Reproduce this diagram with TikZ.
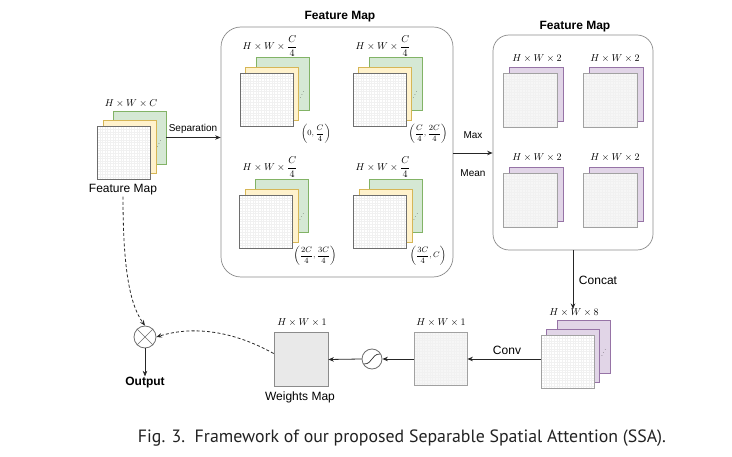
\documentclass[tikz,border=0pt]{standalone}
\usepackage{amsmath}
\usepackage{fontspec}
\usepackage{graphicx}
\setsansfont{Liberation Sans}
\newfontfamily\capfont{PT Sans}
\usetikzlibrary{arrows.meta}
\definecolor{gfill}{HTML}{D5E8D4}\definecolor{gdraw}{HTML}{82B366}
\definecolor{yfill}{HTML}{FFF2CC}\definecolor{ydraw}{HTML}{D6B656}
\definecolor{pfill}{HTML}{E1D5E7}\definecolor{pdraw}{HTML}{9673A6}
\definecolor{sqdraw}{HTML}{6E6E6E}
\definecolor{gridc}{HTML}{F1F1F1}
\definecolor{boxdraw}{HTML}{8A8A8A}
\definecolor{lightsq}{HTML}{F6F6F6}
\definecolor{wmfill}{HTML}{E9E9E9}
\definecolor{captext}{HTML}{222222}
\begin{document}
\begin{tikzpicture}[x=1pt,y=-1pt,
  sqbase/.style={rectangle, minimum width=53pt, minimum height=53pt, inner sep=0pt, line width=0.7pt},
  gridded/.style={path picture={\draw[gridc, line width=0.25pt, step=2.65pt] (path picture bounding box.south west) grid (path picture bounding box.north east);}},
  frontsq/.style={sqbase, draw=sqdraw, line width=0.9pt, fill=white, gridded},
  greysq/.style={sqbase, draw=sqdraw!65, line width=0.8pt, fill=lightsq, gridded},
  gsq/.style={sqbase, draw=gdraw, fill=gfill},
  ysq/.style={sqbase, draw=ydraw, fill=yfill},
  psq/.style={sqbase, draw=pdraw, fill=pfill},
  bigbox/.style={rectangle, draw=boxdraw, line width=0.7pt, rounded corners=20pt, inner sep=0pt},
  sflab/.style={font=\sffamily\fontsize{12}{14}\selectfont, inner sep=1pt},
  smlab/.style={font=\sffamily\fontsize{10}{12}\selectfont, inner sep=1pt},
  title/.style={font=\sffamily\bfseries\fontsize{12}{14}\selectfont, inner sep=1pt},
  mlab/.style={font=\fontsize{10}{12}\selectfont, inner sep=0pt},
  ilab/.style={font=\fontsize{8.5}{10}\selectfont, inner sep=0pt},
  dotsl/.style={font=\fontsize{6}{6}\selectfont, rotate=62, inner sep=0pt},
  arr/.style={draw=black!85, line width=0.8pt, -{Stealth[length=5.5pt,width=4.5pt]}},
  darr/.style={arr, dash pattern=on 3pt off 2.2pt},
]
\useasboundingbox (0,0) rectangle (732,457);

% ---------- left input feature map ----------
\node[gsq] (lg) at (139.5,137.5) {};
\node[ysq] (ly) at (129.5,146.5) {};
\node[frontsq] (lf) at (123.5,153) {};
\node[dotsl] (ldots) at (159.5,143) {$\cdots$};
\node[mlab] (llab) at (131,104) {$H\times W\times C$};
\node[sflab] (lfm) at (123,190) {Feature Map};

% ---------- box 1 ----------
\node[bigbox, minimum width=232pt, minimum height=250pt] (box1) at (337,152) {};
\node[title] (t1) at (340,17) {Feature Map};
\foreach \n/\cx/\cy in {a/266.5/99.5, b/379.5/99.5, c/266/221.5, d/380/221.5}{
  \node[gsq] (g\n) at (\cx+16,\cy-15.5) {};
  \node[ysq] (y\n) at (\cx+5.5,\cy-6) {};
  \node[frontsq] (f\n) at (\cx,\cy) {};
  \node[dotsl] (d\n) at (\cx+36,\cy-5) {$\cdots$};
}
\node[mlab] (la) at (270,46) {$H\times W\times\dfrac{C}{4}$};
\node[mlab] (lb) at (383,46) {$H\times W\times\dfrac{C}{4}$};
\node[mlab] (lc) at (270,167) {$H\times W\times\dfrac{C}{4}$};
\node[mlab] (ld) at (383,167) {$H\times W\times\dfrac{C}{4}$};
\node[ilab] (ia) at (316,134) {$\left(0,\dfrac{C}{4}\right)$};
\node[ilab] (ib) at (428,134) {$\left(\dfrac{C}{4},\dfrac{2C}{4}\right)$};
\node[ilab] (ic) at (315,256) {$\left(\dfrac{2C}{4},\dfrac{3C}{4}\right)$};
\node[ilab] (id) at (428,256) {$\left(\dfrac{3C}{4},C\right)$};

% separation arrow
\draw[arr] (lg.east) -- (box1.west |- lg.east);
\node[smlab] (sep) at (193,129) {Separation};

% ---------- box 2 ----------
\node[bigbox, rounded corners=16pt, minimum width=160pt, minimum height=215pt] (box2) at (573,142.5) {};
\node[title] (t2) at (575,27) {Feature Map};
\foreach \n/\cx/\cy in {a/530/100, b/610/100, c/530/200, d/610/200}{
  \node[psq, minimum width=54pt, minimum height=54pt] (p\n) at (\cx+6,\cy-5.5) {};
  \node[greysq, minimum width=54pt, minimum height=54pt] (q\n) at (\cx,\cy) {};
}
\node[mlab] (ma) at (537,59) {$H\times W\times 2$};
\node[mlab] (mb) at (615,59) {$H\times W\times 2$};
\node[mlab] (mc) at (537,158) {$H\times W\times 2$};
\node[mlab] (md) at (615,158) {$H\times W\times 2$};

% max / mean arrow
\draw[arr] (box1.east |- 0,153) -- (box2.west |- 0,153);
\node[smlab] (max) at (473,135) {Max};
\node[smlab] (mean) at (473,173) {Mean};

% ---------- concat stack ----------
\node[psq] (s8b) at (583.5,346.5) {};
\node[psq] (s8m) at (573,356) {};
\node[greysq, fill=white] (s8f) at (567.5,362) {};
\node[dotsl] (s8d) at (604,352) {$\cdots$};
\node[mlab] (l8) at (574,313) {$H\times W\times 8$};
\draw[arr] (box2.south) -- (box2.south |- l8.north);
\node[sflab] (concat) at (598,280) {Concat};

% ---------- conv output ----------
\node[greysq] (w1) at (440.5,359) {};
\node[mlab] (lw1) at (441,323) {$H\times W\times 1$};
\draw[arr] (s8f.west |- w1.east) -- (w1.east);
\node[sflab] (conv) at (507,350) {Conv};

% sigmoid
\node[circle, draw=sqdraw, line width=0.8pt, minimum size=20pt, inner sep=0pt, fill=white] (sig) at (372,359) {};
\draw[black!80, line width=0.7pt] (364,364) .. controls (373,364) and (371,354) .. (380,354);
\draw[arr] (w1.west) -- (sig.east);

% weights map
\node[sqbase, minimum width=54pt, minimum height=54pt, draw=sqdraw!80, fill=wmfill] (wm) at (301,359.5) {};
\node[mlab] (lwm) at (302,323) {$H\times W\times 1$};
\node[sflab] (wml) at (300,397) {Weights Map};
\draw[arr] (sig.west) -- (wm.east);

% otimes
\node[circle, draw=sqdraw, line width=0.8pt, minimum size=22pt, inner sep=0pt] (ot) at (145,337) {};
\draw[sqdraw, line width=0.7pt] (ot.north west) -- (ot.south east) (ot.north east) -- (ot.south west);
\node[title] (out) at (145,383) {Output};
\draw[arr, line width=0.6pt] (ot.south) -- (out.north);

% dashed connectors
\draw[darr] (lfm.south) .. controls (123,270) and (130,305) .. (ot.north);
\draw[darr] ([yshift=6pt]wm.west) .. controls (235,332) and (195,325) .. (ot.east);

% caption
\node[text=captext] (cap) at (402,438) {\resizebox{528pt}{!}{\capfont Fig. 3.\ \ Framework of our proposed Separable Spatial Attention (SSA).}};
\end{tikzpicture}
\end{document}
